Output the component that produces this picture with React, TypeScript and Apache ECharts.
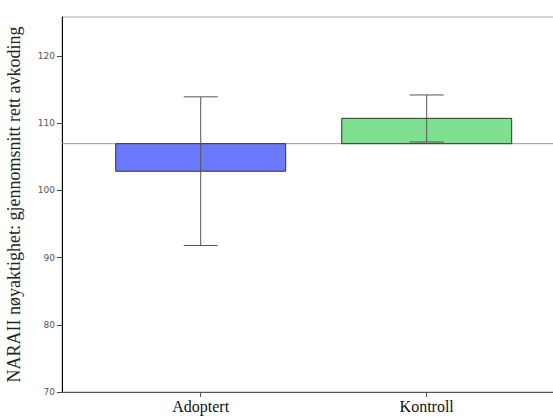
import React, { useEffect, useRef } from "react";
import * as echarts from "echarts";

const categories = ["Adoptert", "Kontroll"];
const means = [102.85, 110.72];
const lowerCI = [91.8, 107.2];
const upperCI = [113.92, 114.2];
const baseline = 106.95;
const barColors = ["#6b79ff", "#7edf8f"];
const yMin = 70;
const yMax = 125.8;
const yInterval = 10;

export default function App() {
  const ref = useRef<HTMLDivElement>(null);
  useEffect(() => {
    if (!ref.current) return;
    const chart = echarts.init(ref.current, null, { renderer: "svg" });
    const data = categories.map((c, i) => [i, means[i], lowerCI[i], upperCI[i]]);
    chart.setOption({
      animation: false,
      grid: [
        {
          left: 62,
          width: 503,
          top: 17,
          bottom: 25,
          outerBoundsMode: "none",
          containLabel: false,
          show: true,
          borderColor: "#a8a8a8",
          borderWidth: 1,
          backgroundColor: "transparent",
        },
        {
          left: 87.7,
          width: 452,
          top: 17,
          bottom: 25,
          outerBoundsMode: "none",
          containLabel: false,
        },
      ],
      xAxis: [
        {
          type: "value",
          gridIndex: 0,
          min: 0,
          max: 1,
          axisLine: { show: true, lineStyle: { color: "#555", width: 1 } },
          axisTick: { show: false },
          axisLabel: { show: false },
          splitLine: { show: false },
        },
        {
          type: "category",
          gridIndex: 1,
          data: categories,
          axisLine: { show: false },
          axisTick: { show: true, alignWithLabel: true, length: 5, lineStyle: { color: "#555" } },
          axisLabel: {
            fontFamily: "Liberation Serif",
            fontSize: 16,
            color: "#111",
            margin: 6,
          },
        },
      ],
      yAxis: [
        {
          type: "value",
          gridIndex: 0,
          min: yMin,
          max: yMax,
          interval: yInterval,
          name: "NARAII nøyaktighet: gjennomsnitt rett avkoding",
          nameLocation: "middle",
          nameGap: 39,
          nameTextStyle: { fontFamily: "Liberation Serif", fontSize: 18, color: "#222" },
          axisLine: { show: true, lineStyle: { color: "#000", width: 1 } },
          axisTick: { show: true, length: 5, lineStyle: { color: "#444" } },
          axisLabel: {
            fontFamily: "DejaVu Sans",
            fontSize: 9,
            color: "#555",
            margin: 7,
            showMaxLabel: false,
          },
          splitLine: { show: false },
        },
        {
          type: "value",
          gridIndex: 1,
          min: yMin,
          max: yMax,
          interval: yInterval,
          show: false,
        },
      ],
      series: [
        {
          type: "line",
          xAxisIndex: 0,
          yAxisIndex: 0,
          data: [
            [0, baseline],
            [1, baseline],
          ],
          symbol: "none",
          silent: true,
          lineStyle: { color: "#999", width: 1 },
          z: 1,
        },
        {
          type: "custom",
          xAxisIndex: 1,
          yAxisIndex: 1,
          data,
          renderItem: (params: any, api: any) => {
            const idx = api.value(0);
            const mean = api.value(1);
            const lo = api.value(2);
            const hi = api.value(3);
            const band = api.size([1, 0])[0];
            const bw = band * 0.752;
            const capW = 34;
            const pBase = api.coord([idx, baseline]);
            const pMean = api.coord([idx, mean]);
            const pLo = api.coord([idx, lo]);
            const pHi = api.coord([idx, hi]);
            const x = pBase[0];
            const yTop = Math.min(pBase[1], pMean[1]);
            const h = Math.abs(pBase[1] - pMean[1]);
            const errStyle = { stroke: "#555", lineWidth: 1 };
            return {
              type: "group",
              children: [
                {
                  type: "rect",
                  shape: { x: x - bw / 2, y: yTop, width: bw, height: h },
                  style: { fill: barColors[idx], stroke: "#333", lineWidth: 1 },
                },
                {
                  type: "line",
                  shape: { x1: x, y1: pLo[1], x2: x, y2: pHi[1] },
                  style: errStyle,
                },
                {
                  type: "line",
                  shape: { x1: x - capW / 2, y1: pHi[1], x2: x + capW / 2, y2: pHi[1] },
                  style: errStyle,
                },
                {
                  type: "line",
                  shape: { x1: x - capW / 2, y1: pLo[1], x2: x + capW / 2, y2: pLo[1] },
                  style: errStyle,
                },
              ],
            };
          },
          z: 2,
        },
      ],
    });
    return () => chart.dispose();
  }, []);
  return <div ref={ref} style={{ width: 553, height: 417, position: "absolute", left: 0, top: 0, overflow: "hidden" }} />;
}
